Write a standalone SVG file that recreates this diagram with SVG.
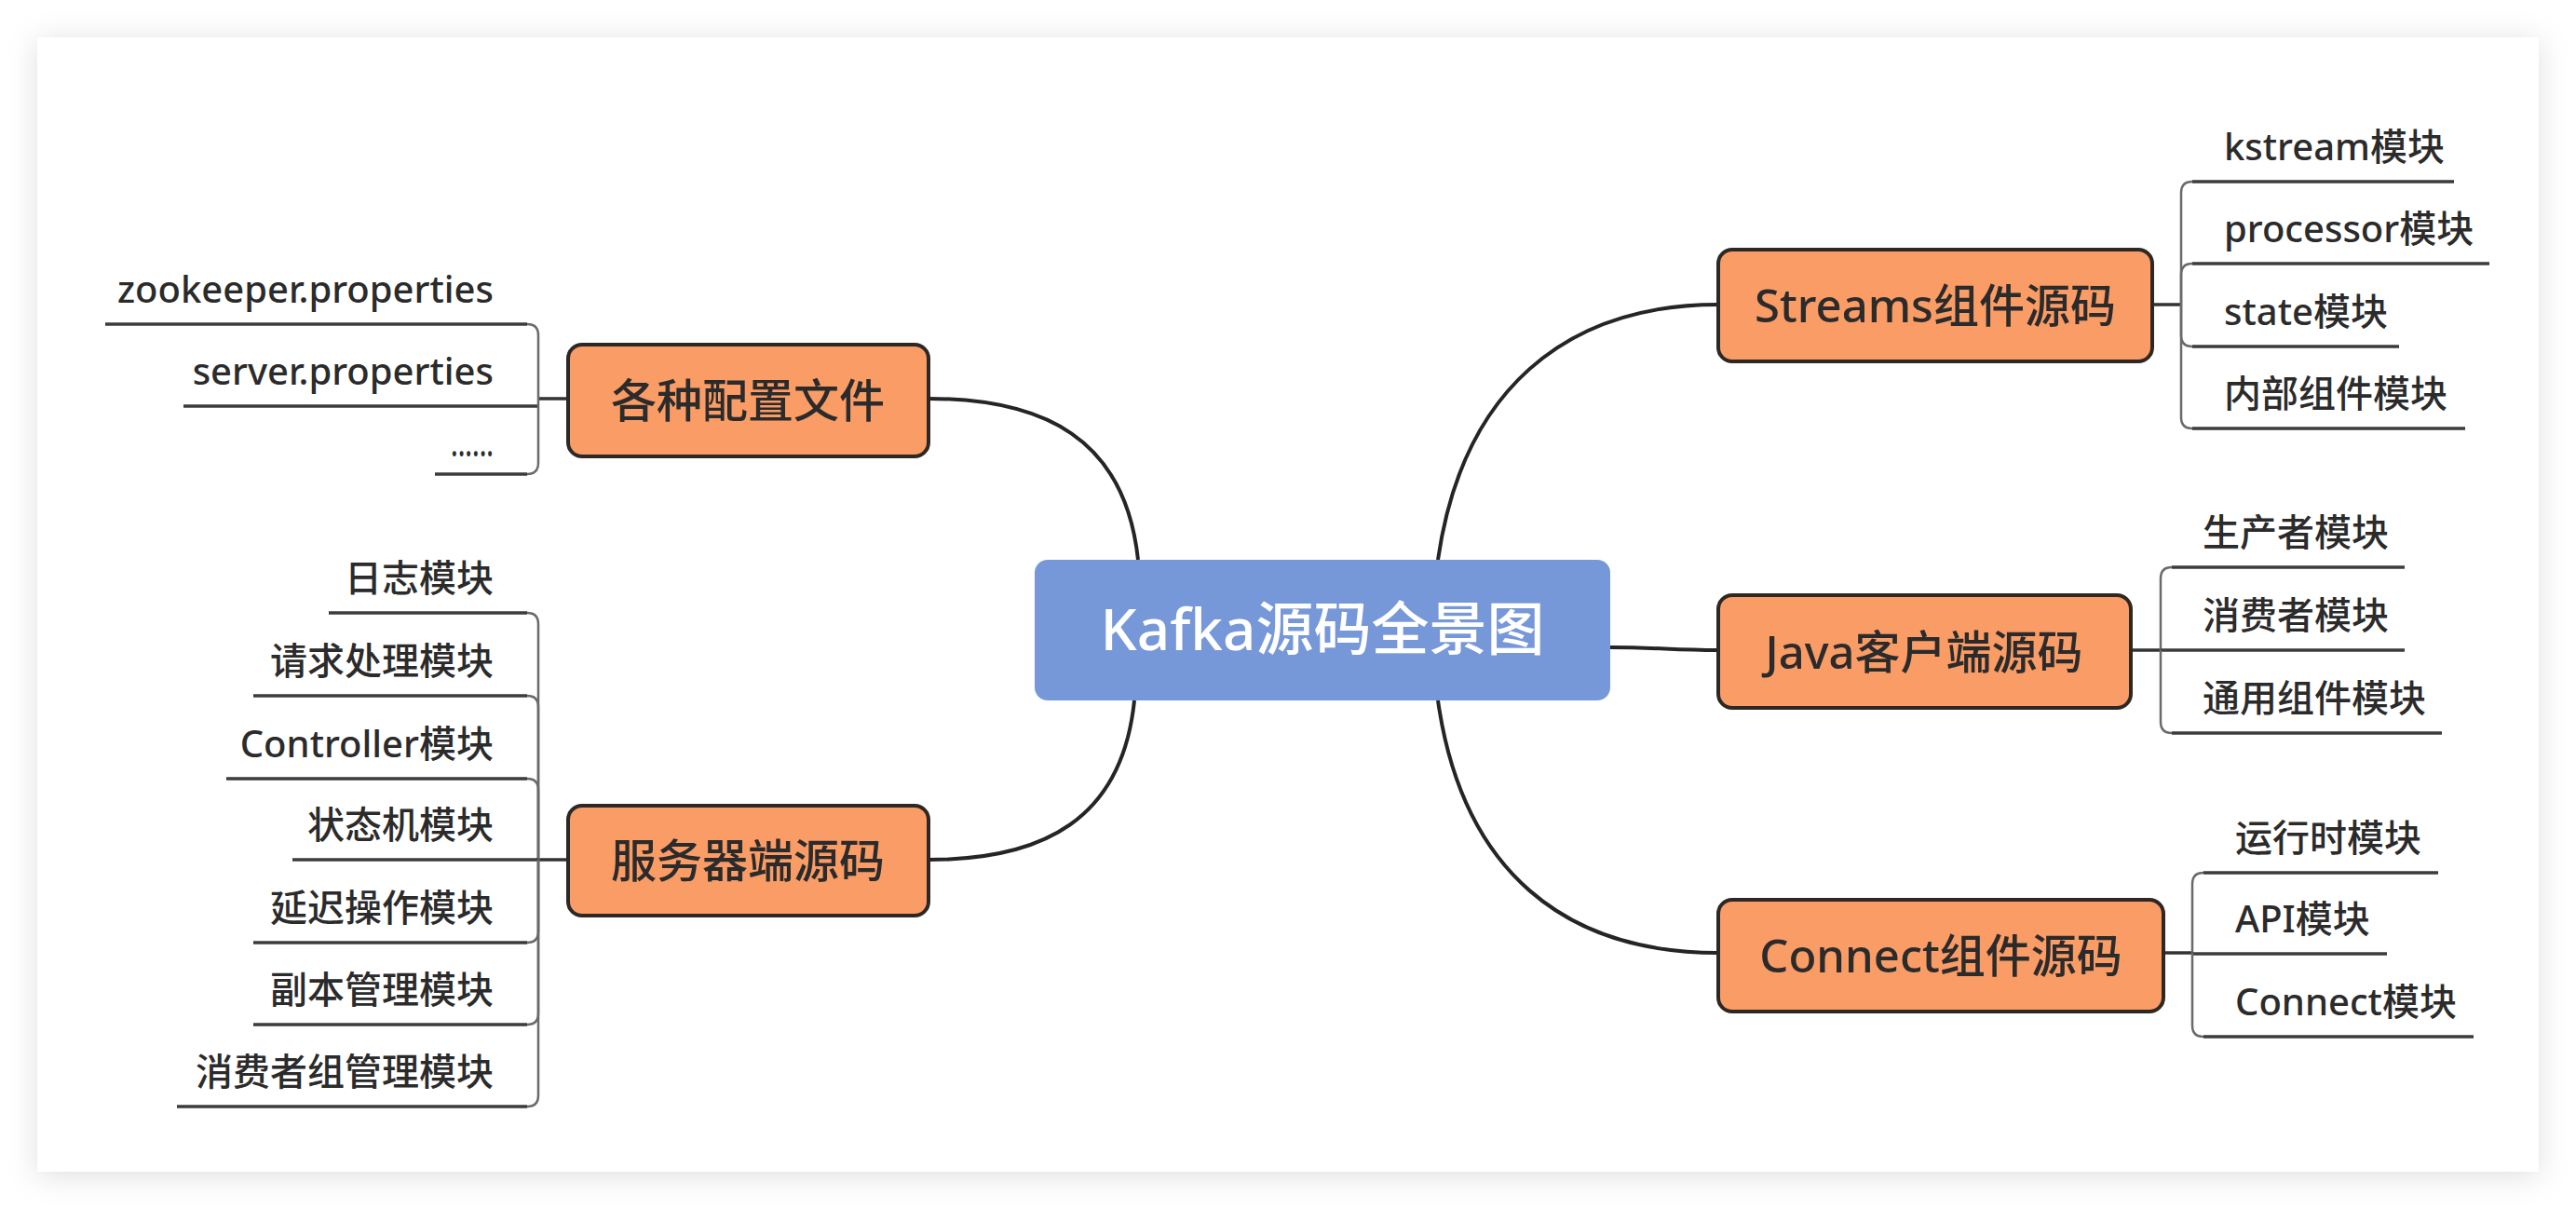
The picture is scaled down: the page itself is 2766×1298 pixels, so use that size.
<svg xmlns="http://www.w3.org/2000/svg" width="2766" height="1298" viewBox="0 0 2766 1298">
<defs>
<filter id="shadow" x="-5%" y="-10%" width="110%" height="120%">
<feDropShadow dx="0" dy="4" stdDeviation="16" flood-color="#000" flood-opacity="0.13"/>
</filter>
<style>
.card{fill:#ffffff;}
.root{fill:#7698d8;}
.topic{fill:#fa9c66;stroke:#2e2824;stroke-width:4;}
text{font-family:"Noto Sans","Noto Sans CJK SC",sans-serif;font-weight:500;}
.t-root{fill:#ffffff;font-size:62px;text-anchor:middle;}
.t-topic{fill:#2b2b2b;font-size:49px;text-anchor:middle;}
.t-leaf{fill:#2b2b2b;font-size:40px;}
.t-l{text-anchor:end;}
.t-r{text-anchor:start;}
.conn{fill:none;stroke:#252525;stroke-width:4;}
.stub{fill:none;stroke:#333;stroke-width:3.5;}
.brk{fill:none;stroke:#6a6a6a;stroke-width:2.5;}
.ul{fill:none;stroke:#3c3c3c;stroke-width:3.5;}
</style>
</defs>
<rect width="2766" height="1298" fill="#ffffff"/>
<rect class="card" x="40" y="40" width="2686" height="1218" filter="url(#shadow)"/>

<g id="connectors">
<path class="conn" d="M 1222 601 C 1208 470 1120 428 997 428"/>
<path class="conn" d="M 1218 752 C 1205 880 1120 923 997 923"/>
<path class="conn" d="M 1544 601 C 1570 420 1680 327 1845 327"/>
<path class="conn" d="M 1544 752 C 1570 935 1680 1023 1845 1023"/>
<path class="conn" d="M 1729 695 C 1780 695 1795 698 1845 698"/>

<!-- config files -->
<line class="stub" x1="578" y1="428" x2="610" y2="428"/>
<path class="brk" d="M 578 428 V 360 Q 578 348 566 348"/>
<path class="ul" d="M 566 348 H 113"/>
<path class="ul" d="M 578 436 H 197"/>
<path class="brk" d="M 578 428 V 497 Q 578 509 566 509"/>
<path class="ul" d="M 566 509 H 467"/>

<!-- server -->
<line class="stub" x1="578" y1="923" x2="610" y2="923"/>
<path class="brk" d="M 578 923 V 670 Q 578 658 566 658"/>
<path class="ul" d="M 566 658 H 353"/>
<path class="brk" d="M 578 923 V 759 Q 578 747 566 747"/>
<path class="ul" d="M 566 747 H 272"/>
<path class="brk" d="M 578 923 V 848 Q 578 836 566 836"/>
<path class="ul" d="M 566 836 H 243"/>
<path class="ul" d="M 578 923 H 314"/>
<path class="brk" d="M 578 923 V 1000 Q 578 1012 566 1012"/>
<path class="ul" d="M 566 1012 H 272"/>
<path class="brk" d="M 578 923 V 1088 Q 578 1100 566 1100"/>
<path class="ul" d="M 566 1100 H 272"/>
<path class="brk" d="M 578 923 V 1176 Q 578 1188 566 1188"/>
<path class="ul" d="M 566 1188 H 190"/>

<!-- streams -->
<line class="stub" x1="2311" y1="327" x2="2342" y2="327"/>
<path class="brk" d="M 2342 327 V 207 Q 2342 195 2354 195"/>
<path class="ul" d="M 2354 195 H 2635"/>
<path class="brk" d="M 2342 327 V 295 Q 2342 283 2354 283"/>
<path class="ul" d="M 2354 283 H 2673"/>
<path class="brk" d="M 2342 327 V 360 Q 2342 372 2354 372"/>
<path class="ul" d="M 2354 372 H 2576"/>
<path class="brk" d="M 2342 327 V 448 Q 2342 460 2354 460"/>
<path class="ul" d="M 2354 460 H 2647"/>

<!-- java -->
<line class="stub" x1="2288" y1="698" x2="2320" y2="698"/>
<path class="brk" d="M 2320 698 V 621 Q 2320 609 2332 609"/>
<path class="ul" d="M 2332 609 H 2582"/>
<path class="ul" d="M 2320 698 H 2582"/>
<path class="brk" d="M 2320 698 V 775 Q 2320 787 2332 787"/>
<path class="ul" d="M 2332 787 H 2622"/>

<!-- connect -->
<line class="stub" x1="2323" y1="1023" x2="2354" y2="1023"/>
<path class="brk" d="M 2354 1023 V 949 Q 2354 937 2366 937"/>
<path class="ul" d="M 2366 937 H 2618"/>
<path class="ul" d="M 2354 1024 H 2563"/>
<path class="brk" d="M 2354 1023 V 1101 Q 2354 1113 2366 1113"/>
<path class="ul" d="M 2366 1113 H 2656"/>
</g>

<g id="root">
<rect class="root" x="1111" y="601" width="618" height="151" rx="14"/>
<text class="t-root" x="1420" y="698">Kafka源码全景图</text>
</g>

<g id="topic-config">
<rect class="topic" x="610" y="370" width="387" height="120" rx="15"/>
<text class="t-topic" x="803" y="448">各种配置文件</text>
</g>
<g id="leaf-zookeeper"><text class="t-leaf t-l" x="530" y="325">zookeeper.properties</text></g>
<g id="leaf-server-prop"><text class="t-leaf t-l" x="530" y="413">server.properties</text></g>
<g id="leaf-etc"><text class="t-leaf t-l" x="530" y="490" textLength="46" lengthAdjust="spacingAndGlyphs">......</text></g>

<g id="topic-server">
<rect class="topic" x="610" y="865" width="387" height="118" rx="15"/>
<text class="t-topic" x="803" y="942">服务器端源码</text>
</g>
<g id="leaf-log"><text class="t-leaf t-l" x="530" y="635">日志模块</text></g>
<g id="leaf-request"><text class="t-leaf t-l" x="530" y="724">请求处理模块</text></g>
<g id="leaf-controller"><text class="t-leaf t-l" x="530" y="813">Controller模块</text></g>
<g id="leaf-statemachine"><text class="t-leaf t-l" x="530" y="900">状态机模块</text></g>
<g id="leaf-delayed"><text class="t-leaf t-l" x="530" y="989">延迟操作模块</text></g>
<g id="leaf-replica"><text class="t-leaf t-l" x="530" y="1077">副本管理模块</text></g>
<g id="leaf-group"><text class="t-leaf t-l" x="530" y="1165">消费者组管理模块</text></g>

<g id="topic-streams">
<rect class="topic" x="1845" y="268" width="466" height="120" rx="15"/>
<text class="t-topic" x="2078" y="346">Streams组件源码</text>
</g>
<g id="leaf-kstream"><text class="t-leaf t-r" x="2388" y="172">kstream模块</text></g>
<g id="leaf-processor"><text class="t-leaf t-r" x="2388" y="260">processor模块</text></g>
<g id="leaf-state"><text class="t-leaf t-r" x="2388" y="349">state模块</text></g>
<g id="leaf-internal"><text class="t-leaf t-r" x="2388" y="437">内部组件模块</text></g>

<g id="topic-java">
<rect class="topic" x="1845" y="639" width="443" height="121" rx="15"/>
<text class="t-topic" x="2066" y="718">Java客户端源码</text>
</g>
<g id="leaf-producer"><text class="t-leaf t-r" x="2365" y="586">生产者模块</text></g>
<g id="leaf-consumer"><text class="t-leaf t-r" x="2365" y="675">消费者模块</text></g>
<g id="leaf-common"><text class="t-leaf t-r" x="2365" y="764">通用组件模块</text></g>

<g id="topic-connect">
<rect class="topic" x="1845" y="966" width="478" height="120" rx="15"/>
<text class="t-topic" x="2084" y="1044">Connect组件源码</text>
</g>
<g id="leaf-runtime"><text class="t-leaf t-r" x="2400" y="914">运行时模块</text></g>
<g id="leaf-api"><text class="t-leaf t-r" x="2400" y="1001">API模块</text></g>
<g id="leaf-connect"><text class="t-leaf t-r" x="2400" y="1090">Connect模块</text></g>
</svg>
